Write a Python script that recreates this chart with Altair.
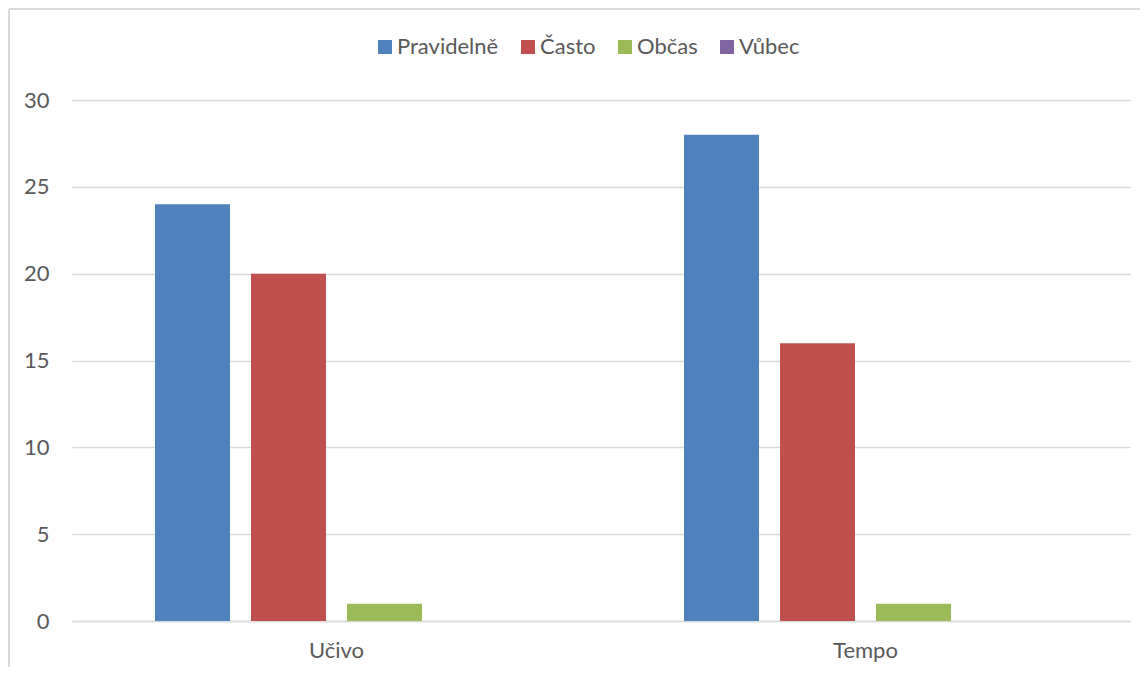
import altair as alt
import pandas as pd

categories = ["Učivo", "Tempo"]
series = ["Pravidelně", "Často", "Občas", "Vůbec"]
values_ucivo = [24, 20, 1, 0]
values_tempo = [28, 16, 1, 0]
colors = ["#4f81bd", "#c0504d", "#9bbb59", "#8064a2"]

rows = []
for s, v in zip(series, values_ucivo):
    rows.append({"kategorie": "Učivo", "serie": s, "hodnota": v})
for s, v in zip(series, values_tempo):
    rows.append({"kategorie": "Tempo", "serie": s, "hodnota": v})
df = pd.DataFrame(rows)

FONT = "Lato"
FS = 22
TXT = "#595959"

bars = alt.Chart(df).mark_bar().encode(
    x=alt.X("kategorie:N", sort=categories, title=None,
            scale=alt.Scale(paddingInner=0, paddingOuter=0),
            axis=alt.Axis(labelAngle=0, ticks=False, grid=False, domainColor="#d9d9d9",
                          domainWidth=1.5, labelPadding=19, labelFontSize=FS,
                          labelColor=TXT, labelFont=FONT)),
    xOffset=alt.XOffset("serie:N", sort=series,
                        scale=alt.Scale(paddingInner=0.21875, paddingOuter=0.8646)),
    y=alt.Y("hodnota:Q", title=None,
            scale=alt.Scale(domain=[0, 30]),
            axis=alt.Axis(values=[0, 5, 10, 15, 20, 25, 30], ticks=False, domain=False,
                          gridColor="#d9d9d9", gridWidth=1.5, labelPadding=23,
                          labelFontSize=FS, labelColor=TXT, labelFont=FONT)),
    color=alt.Color("serie:N", sort=series,
                    scale=alt.Scale(domain=series, range=colors),
                    legend=alt.Legend(title=None, orient="none", direction="horizontal",
                                      legendX=302, legendY=-64, symbolType="square",
                                      symbolSize=196, symbolStrokeWidth=0,
                                      labelFontSize=FS, labelColor=TXT,
                                      labelFont=FONT, columnPadding=18,
                                      symbolOffset=0, labelOffset=1)),
)

frame_df = pd.DataFrame({"k": [0]})
frame_left = alt.Chart(frame_df).mark_rule(color="#d9d9d9", strokeWidth=2).encode(
    x=alt.value(-63), y=alt.value(-91), y2=alt.value(700)
)
frame_top = alt.Chart(frame_df).mark_rule(color="#d9d9d9", strokeWidth=2).encode(
    x=alt.value(-63), x2=alt.value(1200), y=alt.value(-91)
)

chart = alt.layer(frame_left, frame_top, bars).properties(
    width=1058, height=521,
    background="white",
    autosize=alt.AutoSizeParams(type="none"),
    padding={"left": 64, "top": 92, "right": 10, "bottom": 46},
).configure_view(strokeWidth=0)

chart.save("out.html", embed_options={"renderer": "svg", "actions": False})
